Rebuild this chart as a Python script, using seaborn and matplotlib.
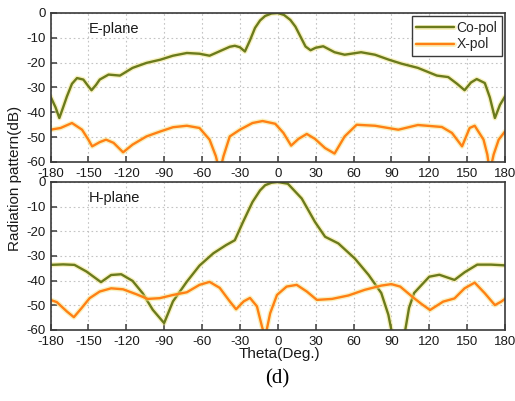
import numpy as np
import pandas as pd
import matplotlib
matplotlib.use("Agg")
import matplotlib.pyplot as plt
import matplotlib.patheffects as pe
import seaborn as sns

# ---------------- data ----------------
e_co_theta = [-180, -176, -173, -170, -167, -163, -159, -154, -150, -147.5, -144, -141, -134, -125,
              -115, -104, -93, -83, -72, -62, -54, -46, -38, -34, -30, -26, -22, -18, -14, -10, -5,
              0, 5, 10, 14, 18, 22, 26, 30, 36, 45, 53, 66, 77, 88, 98, 111, 126, 135, 142, 148,
              153, 157.6, 164, 168, 172, 176, 180]
e_co_db = [-33.6, -38, -42.3, -38, -33.6, -28.5, -26.2, -26.8, -29.5, -31.1, -29, -26.8, -24.8, -25.2,
           -22.1, -20.1, -18.8, -17.2, -16.1, -16.4, -17.2, -15.4, -13.6, -13.2, -13.8, -15.5, -11, -6, -3, -1.2, -0.2,
           0, -0.8, -2.8, -5.5, -9.5, -13.5, -15, -14, -13.4, -15.8, -16.8, -15.8, -16.8, -18.8, -20.4, -22.1, -25.2, -25.8, -28.5, -31.1,
           -28, -26.6, -28.2, -34, -42.3, -37, -33.6]

e_x_theta = [-180, -172, -163, -155, -150, -147, -141, -136, -130, -122.5, -115, -104, -93, -83, -72,
             -62, -54, -49, -46, -43, -38, -30, -20, -12, -2, 4.5, 10.6, 16.4, 23, 29.5, 37.5, 45,
             53, 62.5, 77, 95.5, 111, 130, 138, 146, 152, 156, 163, 166, 168, 171, 175, 180]
e_x_db = [-47, -46.3, -44.3, -47, -51, -53.7, -52, -51, -52.3, -56.1, -53, -49.7, -47.7, -46, -45.4,
          -46.3, -51, -57.7, -64, -57.7, -49.7, -47, -44.3, -43.5, -44.6, -48.3, -53.4, -50.7, -48.7, -50.7, -54.4, -56.6,
          -49.7, -45, -45.4, -47, -45.1, -45.9, -48.3, -53.7, -46.3, -45.4, -51, -57, -64, -57, -51, -47.7]

h_co_theta = [-180, -170, -161, -151.5, -140, -132, -124, -115, -107, -99, -90, -83, -72, -62, -51,
              -41, -34, -27.5, -20, -14, -10, -5, 0, 8, 19, 29.5, 37.5, 48, 61, 72, 82, 87.6,
              90, 95, 101, 104, 108, 120, 128, 136, 140, 148, 158, 169, 180]
h_co_db = [-33.6, -33.4, -33.6, -36.3, -40.6, -37.7, -37.4, -40.1, -45.1, -51.8, -57.2, -48.4, -40.4, -33.9, -28.9,
           -25.6, -23.6, -16.2, -8.1, -3.4, -1.3, -0.3, 0, -0.7, -6.7, -16.2, -22.2, -24.9, -31, -37.7, -45, -53.8,
           -60, -67, -60, -51, -45, -38.4, -37.6, -39, -39.7, -36.6, -33.5, -33.5, -33.8]

h_x_theta = [-180, -175, -167, -161.5, -155.5, -149, -141, -132, -122.5, -112, -103, -93.5, -83, -72, -62,
             -54, -46, -38, -33, -27, -22, -16.5, -12.5, -10, -6, -0.6, 7, 15, 23, 31, 43, 56, 69,
             82, 90, 97, 107, 114, 120.6, 131, 140, 148, 156, 164, 172, 177, 180]
h_x_db = [-47.8, -48.7, -52.5, -54.8, -51.2, -47.1, -44.4, -43.1, -43.5, -45.5, -47.4, -47.1, -45.8, -44.7, -41.7,
          -40.5, -42.9, -48.4, -51.6, -48.4, -47, -50.4, -58.6, -63, -53.2, -45.8, -42.4, -41.7, -44.4, -47.8, -47.4, -46, -43.7,
          -42, -41.4, -42.4, -46.7, -49.5, -51.9, -48.5, -47.2, -43.1, -40.8, -45.1, -49.9, -48.5, -47.4]

x_ticks = [-180, -150, -120, -90, -60, -30, 0, 30, 60, 90, 120, 150, 180]
y_ticks = [-60, -50, -40, -30, -20, -10, 0]
series_names = ["Co-pol", "X-pol"]
plane_names = ["E-plane", "H-plane"]

# ---------------- style ----------------
sns.set_style("white")
plt.rcParams["font.family"] = ["Liberation Sans", "DejaVu Sans"]
plt.rcParams["axes.unicode_minus"] = False

CO = "#6B7B1C"
XP = "#FF8014"
palette = {"Co-pol": CO, "X-pol": XP}

fig = plt.figure(figsize=(5.15, 4.01), dpi=100)
W, H = 515, 401

def ax_rect(l, t, r, b):
    return [l / W, 1 - b / H, (r - l) / W, (b - t) / H]

ax1 = fig.add_axes(ax_rect(50.5, 13, 505, 162))
ax2 = fig.add_axes(ax_rect(50.5, 182, 505, 330))

def frame(theta_co, db_co, theta_x, db_x):
    d1 = pd.DataFrame({"theta": theta_co, "dB": db_co, "pol": "Co-pol"})
    d2 = pd.DataFrame({"theta": theta_x, "dB": db_x, "pol": "X-pol"})
    return pd.concat([d1, d2], ignore_index=True)

df_e = frame(e_co_theta, e_co_db, e_x_theta, e_x_db)
df_h = frame(h_co_theta, h_co_db, h_x_theta, h_x_db)

halo = [pe.Stroke(linewidth=3.6, foreground="#F3E68C", alpha=0.55), pe.Normal()]

for ax, df, name, show_leg in [(ax1, df_e, plane_names[0], True), (ax2, df_h, plane_names[1], False)]:
    sns.lineplot(data=df, x="theta", y="dB", hue="pol", hue_order=series_names, palette=palette,
                 estimator=None, sort=True, linewidth=1.7, ax=ax, legend=show_leg)
    for ln in ax.get_lines():
        ln.set_path_effects(halo)
        ln.set_solid_joinstyle("round")
    ax.set_xlim(-180, 180)
    ax.set_ylim(-60, 0)
    ax.set_xticks(x_ticks)
    ax.set_yticks(y_ticks)
    ax.set_xticklabels([str(t) for t in x_ticks])
    ax.set_yticklabels([str(t) for t in y_ticks])
    ax.grid(True, linestyle=(0, (1.5, 2.5)), color="#c4c4c4", linewidth=0.8)
    ax.set_axisbelow(True)
    for s in ax.spines.values():
        s.set_color("#3a3a3a")
        s.set_linewidth(1.2)
    ax.tick_params(axis="both", direction="in", length=4.5, width=1.1, color="#3a3a3a",
                   labelsize=9.5, labelcolor="#1a1a1a", left=True, bottom=True, top=False, right=False)
    ax.tick_params(axis="x", pad=4)
    ax.tick_params(axis="y", pad=3.5)
    ax.set_xlabel("")
    ax.set_ylabel("")
    ax.text(-150, -6.5, name, fontsize=10.5, color="#1a1a1a", va="center", ha="left")

leg = ax1.legend(loc="upper right", fontsize=10, frameon=True, fancybox=False,
                 edgecolor="#3a3a3a", framealpha=1, handlelength=2.7, handletextpad=0.2,
                 borderpad=0.3, labelspacing=0.2, borderaxespad=0.25)
leg.get_frame().set_linewidth(1.0)
for h in leg.get_lines():
    h.set_linewidth(1.7)
    h.set_path_effects(halo)

fig.text(15 / W, 1 - 178 / H, "Radiation pattern(dB)", rotation=90, fontsize=11,
         ha="center", va="center", color="#1a1a1a")
fig.text(279 / W, 1 - 354 / H, "Theta(Deg.)", fontsize=11, ha="center", va="center", color="#1a1a1a")
fig.text(277 / W, 1 - 379 / H, "(d)", fontsize=15, ha="center", va="center", color="#000000",
         family=["Liberation Serif", "DejaVu Serif"])

fig.savefig("out.png", dpi=100)
